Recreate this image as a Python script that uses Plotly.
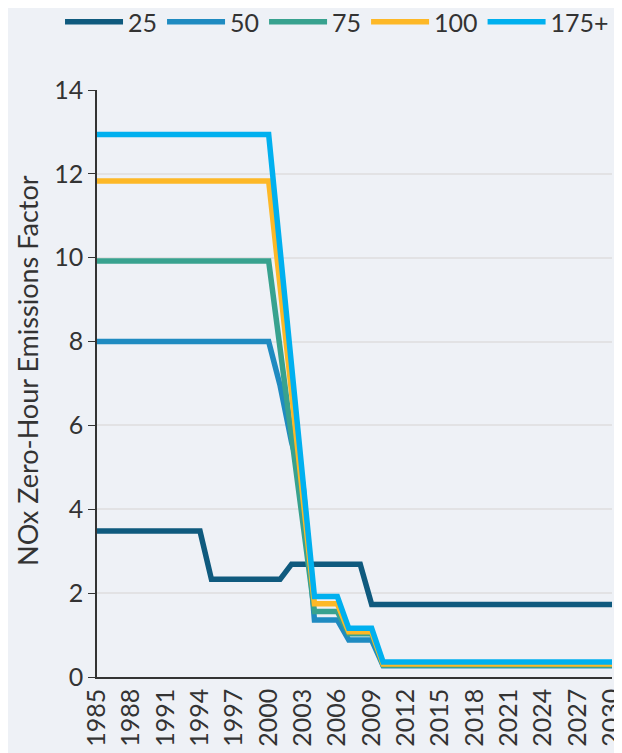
import plotly.graph_objects as go

# Data
years_25 = [1985, 1994, 1995, 2001, 2002, 2008, 2009, 2030]
nox_25 = [3.48, 3.48, 2.33, 2.33, 2.69, 2.69, 1.73, 1.73]

years_50 = [1985, 2000, 2001, 2002, 2003, 2004, 2006, 2007, 2009, 2010, 2030]
nox_50 = [8.0, 8.0, 6.95, 5.6, 4.6, 1.36, 1.36, 0.88, 0.88, 0.27, 0.27]

years_hi = [1985, 2000, 2004, 2006, 2007, 2009, 2010, 2030]
nox_75 = [9.92, 9.92, 1.56, 1.56, 1.03, 1.03, 0.28, 0.28]
nox_100 = [11.83, 11.83, 1.75, 1.75, 1.08, 1.08, 0.31, 0.31]
nox_175 = [12.94, 12.94, 1.92, 1.92, 1.16, 1.16, 0.36, 0.36]

series_names = ["25", "50", "75", "100", "175+"]
x_ticks = list(range(1985, 2031, 3))
y_ticks = [0, 2, 4, 6, 8, 10, 12, 14]
y_title = "NOx Zero-Hour Emissions Factor"

colors = ["#0f5a7e", "#1f8bc1", "#38a28f", "#fdb827", "#00b0ef"]
series = [
    (years_25, nox_25),
    (years_50, nox_50),
    (years_hi, nox_75),
    (years_hi, nox_100),
    (years_hi, nox_175),
]

fig = go.Figure()
for name, (xs, ys), c in zip(series_names, series, colors):
    fig.add_trace(go.Scatter(
        x=xs, y=ys, name=name, mode="lines",
        line=dict(color=c, width=5.5),
    ))

FONT = "Lato"
fig.update_layout(
    width=614, height=745,
    margin=dict(l=89, r=10, t=82, b=76, autoexpand=False),
    paper_bgcolor="#eef1f6",
    plot_bgcolor="rgba(0,0,0,0)",
    font=dict(family=FONT, size=24, color="#333333"),
    showlegend=True,
    legend=dict(
        orientation="h", xref="paper", yref="paper",
        x=-0.0718, xanchor="left", y=1.155, yanchor="top",
        font=dict(size=25, color="#333333"),
        bgcolor="rgba(0,0,0,0)",
        itemwidth=58, tracegroupgap=0,
    ),
    xaxis=dict(
        range=[1985, 2030], tickmode="array", tickvals=x_ticks,
        ticktext=[str(v) for v in x_ticks], tickangle=-90,
        showgrid=False, zeroline=False, showline=True,
        linecolor="#333333", linewidth=1.5, ticks="",
        tickfont=dict(size=25, color="#333333"),
        ticklabeloverflow="allow", automargin=False,
    ),
    yaxis=dict(
        range=[0, 14], tickmode="array", tickvals=y_ticks,
        showgrid=True, gridcolor="#e2e2e4", gridwidth=1.5, zeroline=False,
        showline=True, linecolor="#333333", linewidth=1.5,
        ticks="outside", ticklen=7, tickcolor="#333333",
        tickfont=dict(size=25, color="#333333"),
        automargin=False,
    ),
    annotations=[dict(
        text=y_title, xref="paper", yref="paper",
        x=-0.134, y=0.523, xanchor="center", yanchor="middle",
        textangle=-90, showarrow=False,
        font=dict(size=27, color="#333333"),
    )],
)

fig.write_html("out.html")
